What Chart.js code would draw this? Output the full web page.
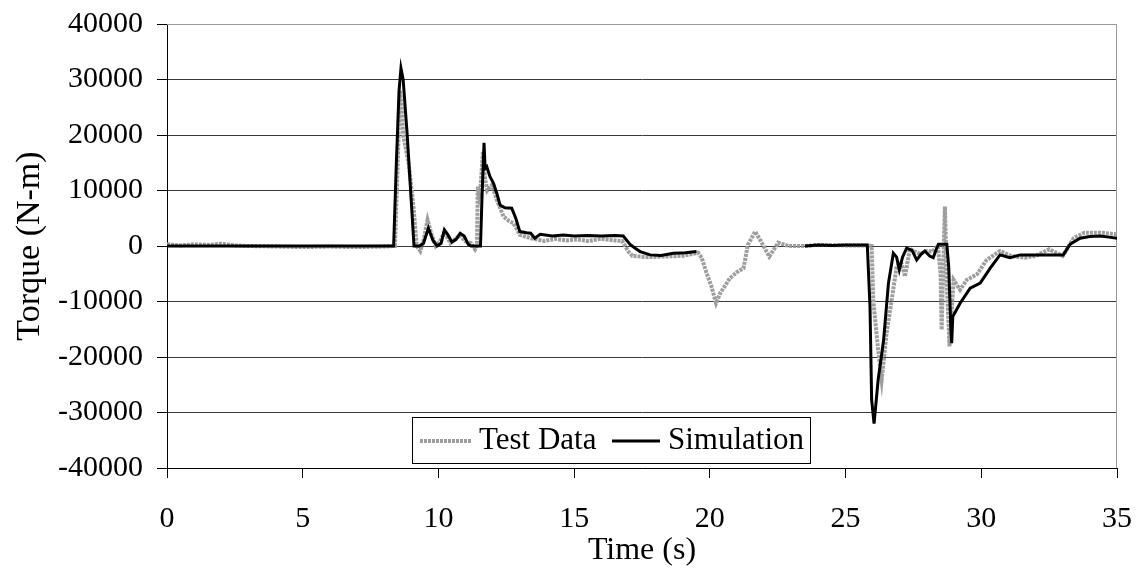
<!DOCTYPE html>
<html>
<head>
<meta charset="utf-8">
<title>Torque</title>
<script src="https://cdn.jsdelivr.net/npm/chart.js@4/dist/chart.umd.min.js"></script>
<style>
  body { margin: 0; background: #fff; }
  #wrap { width: 1137px; height: 571px; }
</style>
</head>
<body>
<div id="wrap"><canvas id="torque" width="1137" height="571"></canvas></div>
<script>
// measured torque (N-m) vs time (s)
const testTime = [0, 0.5, 1.0, 1.5, 2.0, 2.5, 3.0, 4.0, 5.0, 6.0, 7.0, 8.0, 8.4, 8.5, 8.58, 8.65, 8.71, 8.9, 9.08, 9.2, 9.33, 9.45, 9.6, 9.75, 9.9, 10.05, 10.19, 10.3, 10.44, 10.6, 10.8, 11.0, 11.2, 11.35, 11.42, 11.45, 11.5, 11.55, 11.64, 11.72, 11.8, 11.97, 12.15, 12.4, 12.6, 12.77, 13.0, 13.4, 13.9, 14.3, 14.7, 15.1, 15.5, 16.0, 16.5, 16.77, 17.0, 17.15, 17.7, 18.3, 18.95, 19.3, 19.57, 19.7, 19.88, 20.06, 20.23, 20.38, 20.74, 21.0, 21.24, 21.4, 21.67, 21.91, 22.19, 22.52, 22.9, 23.5, 24.0, 25.0, 25.7, 25.96, 26.02, 26.2, 26.33, 26.51, 26.7, 26.88, 27.05, 27.19, 27.37, 27.55, 27.74, 28.0, 28.2, 28.4, 28.5, 28.54, 28.6, 28.66, 28.7, 28.73, 28.83, 28.98, 29.22, 29.47, 29.84, 30.2, 30.69, 31.1, 31.6, 32.0, 32.5, 33.0, 33.4, 33.8, 34.4, 35.0];
const testTorque = [300, 100, 300, 200, 400, 100, 0, -100, -200, -100, -200, -100, 0, 15000, 28000, 25000, 19700, 15000, 7100, 0, -900, 1000, 4700, 2000, 0, 800, 2200, 1800, 500, 1200, 1900, 800, 500, -600, 0, 10700, 9000, 10500, 17000, 12000, 10000, 11000, 8300, 5300, 4500, 4100, 2000, 1400, 900, 1300, 1000, 1200, 900, 1300, 1000, 900, -1000, -1800, -2000, -1900, -1800, -1500, -1200, -2100, -4900, -7300, -10300, -8500, -5800, -4700, -4000, 200, 2600, 600, -1900, 600, 0, 0, 200, 100, 100, 0, -9700, -18700, -24100, -15700, -9700, -3700, -3000, -5500, -500, -1000, -1400, -900, -1000, 0, -5000, -15100, -3000, 7100, 0, -6700, -18100, -6100, -7900, -6100, -5100, -2500, -900, -1800, -2100, -1800, -600, -1800, 1400, 2400, 2400, 2100];

// simulated torque; null marks the stretch with no output
const simTime = [0, 8.35, 8.45, 8.55, 8.62, 8.7, 8.85, 9.0, 9.1, 9.3, 9.45, 9.63, 9.8, 9.95, 10.1, 10.22, 10.35, 10.5, 10.65, 10.8, 10.95, 11.1, 11.2, 11.55, 11.6, 11.68, 11.72, 11.78, 11.9, 12.03, 12.15, 12.27, 12.45, 12.7, 12.85, 13.0, 13.25, 13.4, 13.55, 13.75, 14.2, 14.6, 15.0, 15.5, 16.0, 16.5, 16.81, 17.06, 17.25, 17.43, 17.8, 18.2, 18.66, 19.1, 19.51, 21.5, 23.5, 24.0, 24.5, 25.0, 25.5, 25.8, 25.9, 25.96, 26.05, 26.2, 26.4, 26.58, 26.76, 26.88, 26.98, 27.1, 27.25, 27.45, 27.62, 27.78, 27.92, 28.1, 28.23, 28.35, 28.42, 28.73, 28.8, 28.88, 28.91, 28.95, 29.22, 29.59, 29.96, 30.33, 30.69, 30.9, 31.06, 31.43, 31.92, 32.5, 33.02, 33.27, 33.64, 34.0, 34.38, 34.7, 35.0];
const simTorque = [0, 0, 15000, 28000, 32000, 30000, 20000, 8000, 0, 0, 500, 3200, 1000, 0, 500, 2900, 2000, 700, 1200, 2300, 1800, 300, 0, 0, 8000, 18600, 14000, 14300, 12500, 11300, 9500, 7400, 6900, 6800, 5000, 2600, 2400, 2300, 1400, 2100, 1800, 2000, 1800, 1900, 1800, 1900, 1800, 300, -400, -1000, -1600, -1700, -1300, -1200, -1000, null, 0, 200, 100, 200, 200, 200, -10900, -27700, -32000, -24100, -17000, -6700, -1300, -2000, -4300, -2000, -400, -800, -2500, -1500, -900, -1800, -2100, -500, 300, 300, -3700, -15000, -17500, -12700, -10300, -7600, -6700, -4000, -1600, -1900, -2100, -1600, -1600, -1600, -1600, 300, 1400, 1700, 1800, 1600, 1400];

const xTicks = [0, 5, 10, 15, 20, 25, 30, 35];
const yTicks = [-40000, -30000, -20000, -10000, 0, 10000, 20000, 30000, 40000];

const seriesNames = ["Test Data", "Simulation"];

const FONT = "'Liberation Serif', 'Times New Roman', serif";

function toPoints(xs, ys) {
    return xs.map((x, i) => ({ x: x, y: ys[i] }));
}

// gray frame on the top and right of the plot
const frame = {
    id: "frame",
    beforeDatasetsDraw(chart) {
        const { ctx, chartArea: a } = chart;
        ctx.save();
        ctx.strokeStyle = "#9a9a9a";
        ctx.lineWidth = 1;
        ctx.beginPath();
        ctx.moveTo(a.left, a.top + 0.5);
        ctx.lineTo(a.right - 0.5, a.top + 0.5);
        ctx.lineTo(a.right - 0.5, a.bottom);
        ctx.stroke();
        ctx.restore();
    }
};

// boxed legend sitting inside the plot near the bottom
const boxLegend = {
    id: "boxLegend",
    afterDraw(chart) {
        const { ctx, chartArea: a } = chart;
        const left = a.left + 245, top = a.bottom - 51, w = 398, h = 46;
        const cy = top + h / 2;
        ctx.save();
        ctx.fillStyle = "#fff";
        ctx.fillRect(left, top, w, h);
        ctx.strokeStyle = "#000";
        ctx.lineWidth = 1;
        ctx.strokeRect(left + 0.5, top + 0.5, w, h);

        const ds = chart.data.datasets;
        const items = [
            { d: ds[0], x0: left + 8, x1: left + 60, tx: left + 67 },
            { d: ds[1], x0: left + 200, x1: left + 248, tx: left + 256 }
        ];
        ctx.font = "31px " + FONT;
        ctx.textBaseline = "middle";
        items.forEach(it => {
            ctx.strokeStyle = it.d.borderColor;
            ctx.lineWidth = it.d.borderWidth;
            ctx.setLineDash(it.d.borderDash || []);
            ctx.beginPath();
            ctx.moveTo(it.x0, cy + 1);
            ctx.lineTo(it.x1, cy + 1);
            ctx.stroke();
            ctx.setLineDash([]);
            ctx.fillStyle = "#000";
            ctx.fillText(it.d.label, it.tx, cy + 1);
        });
        ctx.restore();
    }
};

new Chart(document.getElementById("torque"), {
    type: "line",
    data: {
        datasets: [
            {
                label: seriesNames[0],
                data: toPoints(testTime, testTorque),
                borderColor: "#9e9e9e",
                borderWidth: 4,
                borderDash: [3, 1],
                pointRadius: 0,
                tension: 0,
                order: 2
            },
            {
                label: seriesNames[1],
                data: toPoints(simTime, simTorque),
                borderColor: "#000",
                borderWidth: 3,
                pointRadius: 0,
                tension: 0,
                spanGaps: false,
                order: 1
            }
        ]
    },
    options: {
        responsive: false,
        animation: false,
        layout: { padding: { top: 24, right: 20, left: 0, bottom: 0 } },
        plugins: {
            legend: { display: false },
            tooltip: { enabled: false }
        },
        scales: {
            x: {
                type: "linear",
                min: 0,
                max: 35,
                afterBuildTicks: s => { s.ticks = xTicks.map(v => ({ value: v })); },
                afterFit: s => {
                    s.height = 103;
                    s.paddingLeft = 0;
                    s.paddingRight = 0;
                },
                ticks: {
                    color: "#000",
                    font: { family: FONT, size: 30 },
                    padding: 23,
                    maxRotation: 0
                },
                grid: {
                    drawOnChartArea: false,
                    color: "#000",
                    tickColor: "#000",
                    tickLength: 10
                },
                border: { color: "#000", width: 1 },
                title: {
                    display: true,
                    text: "Time (s)",
                    color: "#000",
                    font: { family: FONT, size: 32 },
                    padding: { top: 0, bottom: 1 }
                }
            },
            y: {
                min: -40000,
                max: 40000,
                afterBuildTicks: s => { s.ticks = yTicks.map(v => ({ value: v })); },
                afterFit: s => {
                    s.width = 167;
                    s.paddingTop = 0;
                    s.paddingBottom = 0;
                },
                ticks: {
                    color: "#000",
                    font: { family: FONT, size: 30 },
                    padding: 14,
                    callback: v => String(v)
                },
                grid: {
                    color: c => (c.tick && c.tick.value === 40000 ? "#9a9a9a" : "#3a3a3a"),
                    tickColor: "#000",
                    tickLength: 10,
                    lineWidth: 1
                },
                border: { color: "#000", width: 1 },
                title: {
                    display: true,
                    text: "Torque (N-m)",
                    color: "#000",
                    font: { family: FONT, size: 34 },
                    padding: { top: 10, bottom: 0 }
                }
            }
        }
    },
    plugins: [frame, boxLegend]
});
</script>
</body>
</html>
